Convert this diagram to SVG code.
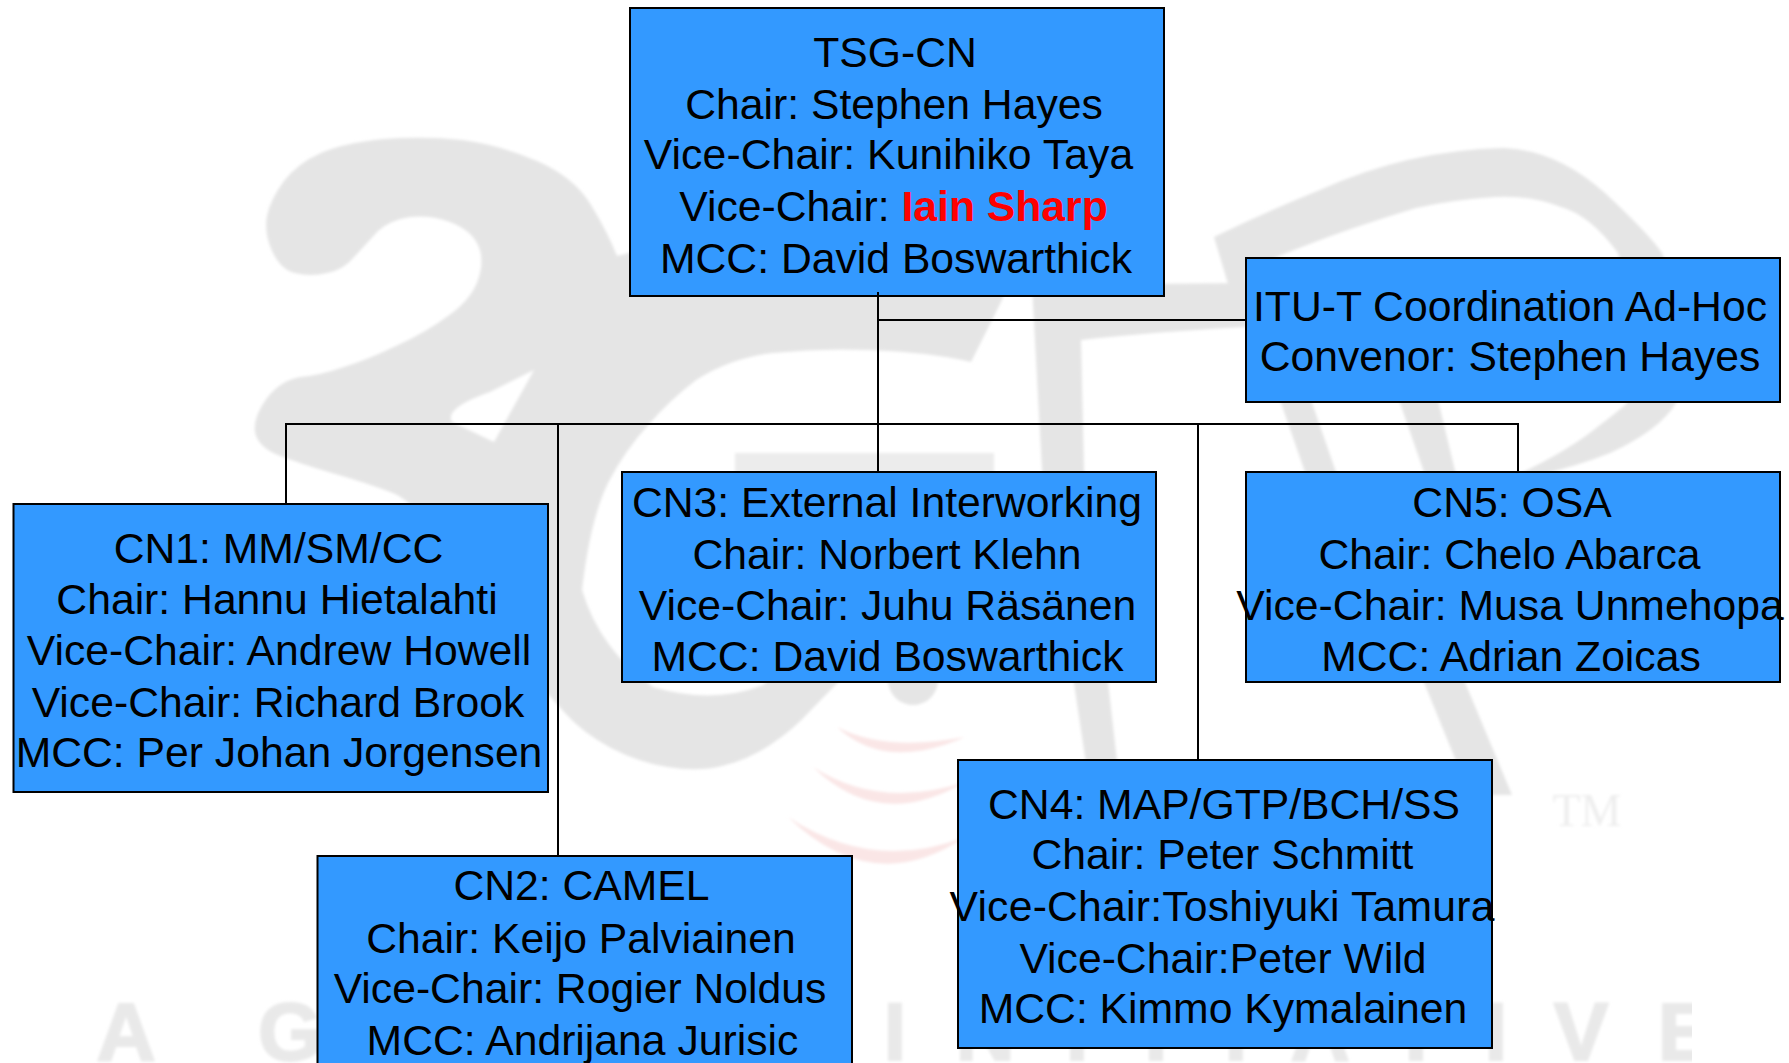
<svg xmlns="http://www.w3.org/2000/svg" width="1789" height="1063" viewBox="0 0 1789 1063">
<style>
.box{fill:#3399ff;stroke:#000;stroke-width:2}
.t{font-family:"Liberation Sans",Arial,sans-serif;font-size:42.7px;fill:#000;text-anchor:middle}
.r{font-weight:bold;fill:#ff0000}
.wm{fill:#e5e5e5}
.wt{font-family:"Liberation Sans",Arial,sans-serif;font-size:82px;font-weight:bold;fill:#e9e9e9;stroke:#e9e9e9;stroke-width:2;text-anchor:middle}
.red{fill:#fae6e6}
.c{fill:none;stroke:#000;stroke-width:2}
</style>
<defs>
<filter id="soft" x="-2%" y="-2%" width="104%" height="104%"><feGaussianBlur stdDeviation="1.4"/></filter>
<clipPath id="wmclip"><rect x="0" y="0" width="1692" height="1063"/></clipPath>
</defs>
<rect width="1789" height="1063" fill="#ffffff"/>
<g id="watermark" clip-path="url(#wmclip)"><g filter="url(#soft)">
<path class="wm" d="M617,256 Q608,233 591,205 Q574,177 537,161 Q500,145 462,140 Q425,136 384,139 Q344,143 321,153 Q298,163 284,181 Q270,200 267,216 Q264,233 272,251 Q281,270 295,273 Q310,277 327,273 Q344,270 355,256 Q367,243 378,231 Q390,220 410,217 Q430,215 450,222 Q471,230 478,245 Q485,260 478,280 Q471,300 448,316 Q425,333 396,346 Q367,360 344,367 Q321,375 301,377 Q281,380 267,398 Q253,417 255,432 Q258,447 278,455 Q298,463 332,473 Q367,483 393,493 Q419,503 460,571 Q500,640 523,666 Q547,693 565,713 Q583,733 611,748 Q640,763 668,767 Q697,772 722,766 Q747,760 770,745 Q793,730 811,710 L850,670 L780,670 L763,685 Q713,705 653,687 Q600,650 582,590 Q590,520 608,483 Q625,450 650,423 Q670,400 696,380 Q730,358 772,353 Q820,348 868,350 Q930,352 971,362 L1002,300 L1005,290 L640,250 Z"/>
<path fill="#ffffff" d="M534,370 L490,392 Q444,408 452,422 L494,442 Z"/>
<rect fill="#ececec" x="735" y="453" width="259" height="30"/>
<circle class="wm" cx="913" cy="680" r="25"/>
<path class="wm" d="M1032,285 L1250,283 L1246,327 Q1150,332 1081,340 L1084,470 L1118,770 L1087,770 L1042,470 Z"/>
<path class="wm" d="M1214,237 Q1270,210 1320,190 Q1408,150 1504,148 Q1557,150 1605,193 Q1650,235 1662,253 L1690,330 L1676,403 Q1660,430 1610,453 Q1580,465 1539,475 L1517,475 Q1570,450 1600,425 Q1620,410 1627,403 L1640,330 L1618,253 Q1590,215 1561,207 Q1530,195 1495,197 Q1450,200 1416,208 Q1360,225 1320,240 Q1280,255 1246,270 L1246,300 L1229,287 Z"/>
<polygon class="wm" points="1280,400 1311,400 1337,475 1306,475"/>
<polygon class="wm" points="1399,400 1438,400 1456,475 1425,475"/>
<polygon class="wm" points="1423,680 1464,680 1512,795 1470,795"/>
<path class="red" d="M837,727 Q885,772 965,737 Q885,752 837,727 Z"/>
<path class="red" d="M813,767 Q880,832 965,782 Q880,810 813,767 Z"/>
<path class="red" d="M788,817 Q873,899 965,837 Q873,873 788,817 Z"/>
<text class="wt" y="1060" x="126 200 290">A G</text>
<text class="wt" y="1060" x="895 985 1077 1156 1236 1320 1416 1496 1581 1685">INITIATIVE</text>
<text y="826" x="1587" font-family="'Liberation Serif',serif" font-size="46" fill="#eeeeee" text-anchor="middle">TM</text>
</g></g>
<g id="node-tsg"><rect class="box" x="630" y="8" width="534" height="288"/>
<text class="t" x="895" y="67">TSG-CN</text>
<text class="t" x="894" y="119">Chair: Stephen Hayes</text>
<text class="t" x="888.500" y="169" textLength="489.500">Vice-Chair: Kunihiko Taya</text>
<text class="t" x="893.500" y="221">Vice-Chair: <tspan class="r">Iain Sharp</tspan></text>
<text class="t" x="896" y="273">MCC: David Boswarthick</text></g>
<g id="node-itu"><rect class="box" x="1246" y="258" width="534" height="144"/>
<text class="t" x="1510" y="321">ITU-T Coordination Ad-Hoc</text>
<text class="t" x="1510" y="371">Convenor: Stephen Hayes</text></g>
<g id="node-cn1"><rect class="box" x="13.500" y="504" width="534.500" height="288"/>
<text class="t" x="278.500" y="563">CN1: MM/SM/CC</text>
<text class="t" x="277" y="614">Chair: Hannu Hietalahti</text>
<text class="t" x="279" y="665">Vice-Chair: Andrew Howell</text>
<text class="t" x="278" y="717">Vice-Chair: Richard Brook</text>
<text class="t" x="279" y="767">MCC: Per Johan Jorgensen</text></g>
<g id="node-cn2"><rect class="box" x="317.500" y="856" width="534.500" height="288"/>
<text class="t" x="581.500" y="900">CN2: CAMEL</text>
<text class="t" x="581" y="953">Chair: Keijo Palviainen</text>
<text class="t" x="580" y="1003">Vice-Chair: Rogier Noldus</text>
<text class="t" x="582.500" y="1055">MCC: Andrijana Jurisic</text></g>
<g id="node-cn3"><rect class="box" x="622" y="472" width="534" height="210"/>
<text class="t" x="887" y="517">CN3: External Interworking</text>
<text class="t" x="887" y="569">Chair: Norbert Klehn</text>
<text class="t" x="887.500" y="620">Vice-Chair: Juhu Räsänen</text>
<text class="t" x="887.500" y="671">MCC: David Boswarthick</text></g>
<g id="node-cn4"><rect class="box" x="958" y="760" width="534" height="288"/>
<text class="t" x="1224" y="819">CN4: MAP/GTP/BCH/SS</text>
<text class="t" x="1222.500" y="869">Chair: Peter Schmitt</text>
<text class="t" x="1222" y="921" textLength="545">Vice-Chair:Toshiyuki Tamura</text>
<text class="t" x="1223" y="973">Vice-Chair:Peter Wild</text>
<text class="t" x="1223" y="1023">MCC: Kimmo Kymalainen</text></g>
<g id="node-cn5"><rect class="box" x="1246" y="472" width="534" height="210"/>
<text class="t" x="1512" y="517">CN5: OSA</text>
<text class="t" x="1509.500" y="569">Chair: Chelo Abarca</text>
<text class="t" x="1510" y="620">Vice-Chair: Musa Unmehopa</text>
<text class="t" x="1511" y="671">MCC: Adrian Zoicas</text></g>
<g id="connectors">
<path class="c" d="M878,292 V472"/>
<path class="c" d="M878,320 H1246"/>
<path class="c" d="M286,504 V424 H1518 V472"/>
<path class="c" d="M558,424 V856"/>
<path class="c" d="M1198,424 V760"/>
</g>
</svg>
